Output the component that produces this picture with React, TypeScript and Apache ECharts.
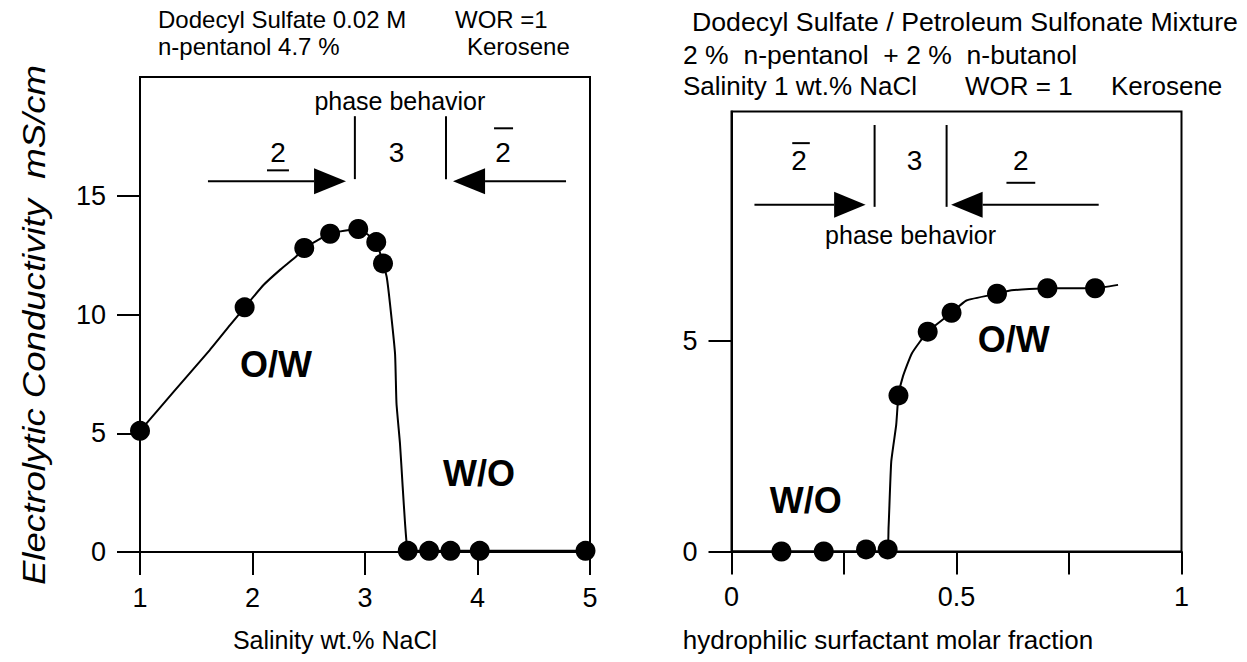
import { useEffect, useRef } from "react";
import * as echarts from "echarts";

const FONT = "'Liberation Sans', Arial, Helvetica, sans-serif";

// Left panel: conductivity vs salinity (dodecyl sulfate system)
const salinity = [1.0, 1.93, 2.46, 2.69, 2.94, 3.1, 3.16, 3.38, 3.57, 3.76, 4.02, 4.96];
const condBySalinity = [5.1, 10.3, 12.8, 13.4, 13.6, 13.05, 12.15, 0.05, 0.05, 0.05, 0.05, 0.05];
const salinityCurveX = [1, 1.3, 1.62, 1.8, 1.93, 2.1, 2.25, 2.39, 2.46, 2.69, 2.94, 3.1, 3.16, 3.193, 3.222, 3.267, 3.28, 3.311, 3.335, 3.356, 3.37, 3.38, 5];
const salinityCurveY = [5.1, 6.75, 8.5, 9.55, 10.3, 11.25, 11.9, 12.45, 12.8, 13.4, 13.6, 13.05, 12.15, 11.58, 10.46, 8.35, 6.25, 4.56, 2.74, 1.2, 0.35, 0.05, 0.05];

// Right panel: conductivity vs hydrophilic surfactant molar fraction
const fraction = [0.111, 0.205, 0.299, 0.347, 0.371, 0.436, 0.489, 0.59, 0.702, 0.808];
const condByFraction = [0, 0, 0.05, 0.05, 3.7, 5.21, 5.66, 6.11, 6.24, 6.24];
const fractionCurveX = [0, 0.345, 0.349, 0.355, 0.366, 0.371, 0.381, 0.401, 0.436, 0.489, 0.522, 0.59, 0.622, 0.702, 0.808, 0.859];
const fractionCurveY = [0, 0, 0.56, 2.13, 3.0, 3.7, 4.15, 4.7, 5.21, 5.66, 5.95, 6.11, 6.19, 6.24, 6.24, 6.32];

// Axis ranges and ticks
const salinityTicks = [1, 2, 3, 4, 5];
const leftYTicks = [0, 5, 10, 15];
const fractionTicks = [0, 0.25, 0.5, 0.75, 1];
const fractionLabels = [0, 0.5, 1];
const rightYTicks = [0, 5];

// Phase-behavior annotations (in data units of each panel)
const leftPhaseBounds = [2.91, 3.72];
const leftPhaseSpan = [15.7, 18.35];
const rightPhaseBounds = [0.318, 0.478];
const rightPhaseSpan = [8.17, 10.11];

const zip = (xs: number[], ys: number[]) => xs.map((x, i) => [x, ys[i]]);

export default function App() {
  const ref = useRef<HTMLDivElement>(null);

  useEffect(() => {
    document.body.style.margin = "0";
    const chart = echarts.init(ref.current!, null, { renderer: "svg" });

    const axisLine = { show: true, lineStyle: { color: "#000", width: 2 } };
    const tick = { show: true, inside: false, length: 23, lineStyle: { color: "#000", width: 2 } };
    const label = { color: "#000", fontSize: 27, fontFamily: FONT };

    chart.setOption({
      animation: false,
      backgroundColor: "#fff",
      grid: [
        { left: 140, top: 77, width: 450, height: 475, show: true, borderColor: "#000", borderWidth: 2, backgroundColor: "transparent" },
        { left: 731.5, top: 111.5, width: 450, height: 440, show: true, borderColor: "#000", borderWidth: 2, backgroundColor: "transparent" },
      ],
      xAxis: [
        {
          type: "value", gridIndex: 0, min: 1, max: 5, interval: 1,
          axisLine, axisTick: { ...tick, customValues: salinityTicks }, splitLine: { show: false },
          axisLabel: { ...label, margin: 32, customValues: salinityTicks },
        },
        {
          type: "value", gridIndex: 1, min: 0, max: 1, interval: 0.25,
          axisLine, axisTick: { ...tick, customValues: fractionTicks }, splitLine: { show: false },
          axisLabel: { ...label, margin: 32, customValues: fractionLabels },
        },
      ],
      yAxis: [
        {
          type: "value", gridIndex: 0, min: 0, max: 20, interval: 5,
          axisLine, axisTick: { ...tick, customValues: leftYTicks }, splitLine: { show: false },
          axisLabel: { ...label, margin: 34, customValues: leftYTicks },
        },
        {
          type: "value", gridIndex: 1, min: 0, max: 10.43, interval: 5,
          axisLine, axisTick: { ...tick, customValues: rightYTicks }, splitLine: { show: false },
          axisLabel: { ...label, margin: 34, customValues: rightYTicks },
        },
      ],
      series: [
        {
          type: "line", xAxisIndex: 0, yAxisIndex: 0, data: zip(salinityCurveX, salinityCurveY),
          symbol: "none", smooth: 0.15, lineStyle: { color: "#000", width: 2 }, z: 2,
        },
        {
          type: "scatter", xAxisIndex: 0, yAxisIndex: 0, data: zip(salinity, condBySalinity),
          symbol: "circle", symbolSize: 20, itemStyle: { color: "#000", opacity: 1 }, z: 3,
        },
        {
          type: "line", xAxisIndex: 1, yAxisIndex: 1, data: zip(fractionCurveX, fractionCurveY),
          symbol: "none", smooth: 0.15, lineStyle: { color: "#000", width: 2 }, z: 2,
        },
        {
          type: "scatter", xAxisIndex: 1, yAxisIndex: 1, data: zip(fraction, condByFraction),
          symbol: "circle", symbolSize: 20, itemStyle: { color: "#000", opacity: 1 }, z: 3,
        },
      ],
    });

    const px = (g: number, x: number, y: number) =>
      chart.convertToPixel({ xAxisIndex: g, yAxisIndex: g }, [x, y]) as number[];

    const text = (x: number, y: number, t: string, size = 25, extra: any = {}) => ({
      type: "text", x, y, silent: true,
      style: { text: t, fontSize: size, fontFamily: FONT, fill: "#000", align: "center", verticalAlign: "middle", ...extra },
    });
    const textAt = (g: number, x: number, y: number, t: string, size = 25, extra: any = {}) => {
      const [a, b] = px(g, x, y);
      return text(a, b, t, size, extra);
    };
    const seg = (g: number, x1: number, y1: number, x2: number, y2: number) => {
      const [a, b] = px(g, x1, y1);
      const [c, d] = px(g, x2, y2);
      return { type: "line", silent: true, shape: { x1: a, y1: b, x2: c, y2: d }, style: { stroke: "#000", lineWidth: 2 } };
    };
    const arrow = (g: number, tail: number, base: number, tip: number, y: number) => {
      const [t, yy] = px(g, tail, y);
      const [b] = px(g, base, y);
      const [p] = px(g, tip, y);
      return [
        { type: "line", silent: true, shape: { x1: t, y1: yy, x2: b, y2: yy }, style: { stroke: "#000", lineWidth: 2 } },
        { type: "polygon", silent: true, shape: { points: [[b, yy - 13], [p, yy], [b, yy + 13]] }, style: { fill: "#000" } },
      ];
    };

    const graphic: any[] = [
      // left panel header
      text(158, 19, "Dodecyl Sulfate 0.02 M", 24, { align: "left" }),
      text(455, 19, "WOR =1", 24, { align: "left" }),
      text(158, 46, "n-pentanol 4.7 %", 24, { align: "left" }),
      text(467, 46, "Kerosene", 24, { align: "left" }),
      // right panel header
      text(692, 22, "Dodecyl Sulfate / Petroleum Sulfonate Mixture", 26.7, { align: "left" }),
      text(683, 55, "2 %  n-pentanol  + 2 %  n-butanol", 26.5, { align: "left" }),
      text(683, 86, "Salinity 1 wt.% NaCl", 26, { align: "left" }),
      text(965, 86, "WOR = 1", 26, { align: "left" }),
      text(1111, 86, "Kerosene", 26, { align: "left" }),
      // axis titles
      { ...text(34, 325, "Electrolytic Conductivity  mS/cm", 31, { fontStyle: "italic" }), rotation: Math.PI / 2, scaleX: 1.18 },
      text(335, 640, "Salinity wt.% NaCl", 25),
      text(888, 640, "hydrophilic surfactant molar fraction", 26),

      // left panel annotations
      textAt(0, 3.31, 18.99, "phase behavior", 25),
      seg(0, leftPhaseBounds[0], leftPhaseSpan[0], leftPhaseBounds[0], leftPhaseSpan[1]),
      seg(0, leftPhaseBounds[1], leftPhaseSpan[0], leftPhaseBounds[1], leftPhaseSpan[1]),
      textAt(0, 3.28, 16.82, "3", 28),
      textAt(0, 2.227, 16.82, "2", 28),
      seg(0, 2.129, 16.07, 2.324, 16.07),
      textAt(0, 4.227, 16.82, "2", 28),
      seg(0, 4.147, 17.84, 4.316, 17.84),
      ...arrow(0, 1.604, 2.547, 2.831, 15.61),
      ...arrow(0, 4.787, 4.067, 3.782, 15.61),
      textAt(0, 2.209, 7.9, "O/W", 36, { fontWeight: "bold" }),
      textAt(0, 4.013, 3.31, "W/O", 36, { fontWeight: "bold" }),

      // right panel annotations
      seg(1, rightPhaseBounds[0], rightPhaseSpan[0], rightPhaseBounds[0], rightPhaseSpan[1]),
      seg(1, rightPhaseBounds[1], rightPhaseSpan[0], rightPhaseBounds[1], rightPhaseSpan[1]),
      textAt(1, 0.15, 9.28, "2", 28),
      seg(1, 0.135, 9.68, 0.174, 9.68),
      textAt(1, 0.407, 9.28, "3", 28),
      textAt(1, 0.643, 9.28, "2", 28),
      seg(1, 0.611, 8.74, 0.675, 8.74),
      ...arrow(1, 0.051, 0.228, 0.298, 8.22),
      ...arrow(1, 0.816, 0.558, 0.488, 8.22),
      textAt(1, 0.398, 7.5, "phase behavior", 25),
      textAt(1, 0.165, 1.22, "W/O", 36, { fontWeight: "bold" }),
      textAt(1, 0.627, 5.02, "O/W", 36, { fontWeight: "bold" }),
    ];

    chart.setOption({ graphic });

    return () => chart.dispose();
  }, []);

  return <div ref={ref} style={{ width: 1247, height: 662 }} />;
}
